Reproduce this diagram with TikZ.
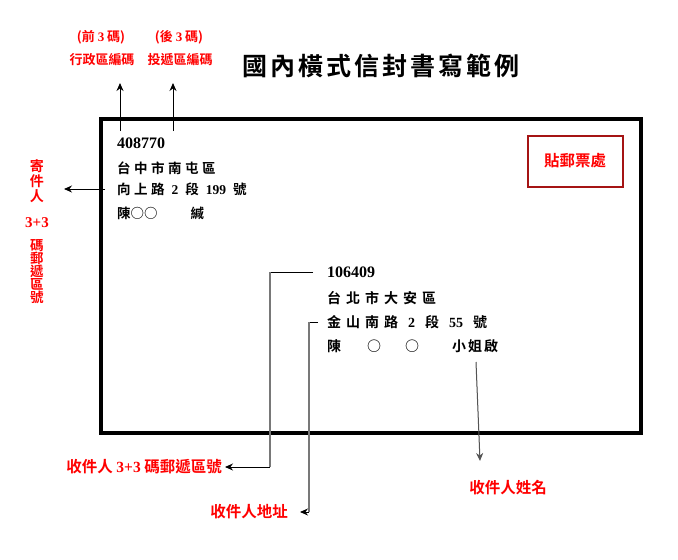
\documentclass[tikz,border=0pt]{standalone}
\usepackage{fontspec}
\setmainfont{Liberation Serif}
\newfontfamily\cjk{Noto Sans CJK TC Bold}
\newfontfamily\lat{Liberation Serif}
\usetikzlibrary{arrows.meta}
\definecolor{lblred}{RGB}{255,0,0}
\definecolor{stampred}{RGB}{165,20,20}
\definecolor{connGray}{RGB}{120,120,120}
\newcommand\dg[1]{{\lat\bfseries #1}}
\newcommand\gp{\hspace{5pt}}
\newcommand\gq{\hspace{10pt}}
\newcommand\sgp{\hspace{3.5pt}}
\newcommand\sgq{\hspace{7pt}}
\newcommand\gt{\hspace{3pt}}
\tikzset{
  body/.style={font=\cjk\fontsize{14}{16}\selectfont, anchor=west, inner sep=0pt},
  sbody/.style={font=\cjk\fontsize{13.5}{16}\selectfont, anchor=west, inner sep=0pt},
  redlbl/.style={font=\cjk\fontsize{13}{15}\selectfont, text=lblred, inner sep=0pt},
  biglbl/.style={font=\cjk\fontsize{15.5}{17}\selectfont, text=lblred, inner sep=0pt},
  arr/.style={-{Stealth[length=8pt,width=7pt]}, line width=1pt},
  envelope/.style={line width=3.5pt},
  connv/.style={connGray, line width=1.6pt},
  connh/.style={line width=1pt}
}
\begin{document}
\begin{tikzpicture}[x=1pt,y=-1pt]
\useasboundingbox[fill=white] (0,0) rectangle (678,560);

% envelope
\draw[envelope] (101,119) rectangle (641,433);

% title
\node[anchor=west, inner sep=0pt, font=\cjk\fontsize{25}{28}\selectfont] (title) at (242,66)
  {國\gt 內\gt 橫\gt 式\gt 信\gt 封\gt 書\gt 寫\gt 範\gt 例};

% stamp
\node[draw=stampred, line width=2pt, minimum width=95pt, minimum height=51pt,
      font=\cjk\fontsize{15.5}{17}\selectfont, text=lblred] (stamp) at (575,161) {貼郵票處};

% top labels
\node[redlbl] (lab1a) at (101,37) {(前 \dg{3} 碼)};
\node[redlbl] (lab1b) at (102,60) {行政區編碼};
\node[redlbl] (lab2a) at (179,37) {(後 \dg{3} 碼)};
\node[redlbl] (lab2b) at (180,60) {投遞區編碼};

% sender block
\node[sbody, font=\lat\bfseries\fontsize{16}{18}\selectfont] (szip) at (117,143) {408770};
\node[sbody] (sline2) at (117,168) {台\sgp 中\sgp 市\sgp 南\sgp 屯\sgp 區};
\node[sbody] (sline3) at (117,189) {向\sgp 上\sgp 路\sgq\dg{2}\sgq 段\sgq\dg{199}\sgq 號};
\node[sbody] (sline4) at (117,214) {陳○○\hspace{33pt}緘};

% arrows to top labels
\coordinate (up1s) at (120,131);
\coordinate (up1e) at (120,83);
\coordinate (up2s) at (173,131);
\coordinate (up2e) at (173,83);
\draw[arr] (up1s) -- (up1e);
\draw[arr] (up2s) -- (up2e);

% left vertical label
\node[redlbl, align=center, font=\cjk\fontsize{14}{15}\selectfont] (sendlab) at (37,181) {寄\\件\\人};
\node[redlbl, font=\lat\bfseries\fontsize{15}{17}\selectfont] (sendnum) at (37,223) {3+3};
\node[redlbl, align=center, font=\cjk\fontsize{13.5}{13}\selectfont] (sendzip) at (37,272) {碼\\郵\\遞\\區\\號};
\coordinate (sendtip) at (64,189);
\draw[arr] ([xshift=-12pt]sline3.west) -- (sendtip);

% receiver block
\node[body, font=\lat\bfseries\fontsize{16}{18}\selectfont] (rzip) at (327,272) {106409};
\node[body] (rline2) at (327,298) {台\gp 北\gp 市\gp 大\gp 安\gp 區};
\node[body] (rline3) at (327,322) {金\gp 山\gp 南\gp 路\gq\dg{2}\gq 段\gq\dg{55}\gq 號};
\node[body] (rline4) at (327,346) {陳\hspace{26pt}○\hspace{24pt}○\hspace{33pt}小\hspace{2pt}姐\hspace{2pt}啟};

% bottom labels
\node[biglbl, anchor=east] (ziplab) at (222,467) {收件人 \dg{3+3} 碼郵遞區號};
\node[biglbl, anchor=east] (addrlab) at (288,512) {收件人地址};
\node[biglbl] (namelab) at (508,488) {收件人姓名};

% zip connector
\coordinate (zipc) at (270,467);
\draw[connh] ([xshift=-14pt]rzip.west) -- (rzip.west -| zipc);
\draw[connv] (rzip.west -| zipc) -- (zipc);
\draw[arr, shorten >=3pt] (zipc) -- (ziplab.east);

% address connector
\coordinate (addrc) at (309,512);
\draw[connh] ([xshift=-9pt]rline3.west) -- (rline3.west -| addrc);
\draw[connv] (rline3.west -| addrc) -- (addrc);
\draw[arr, shorten >=12pt] (addrc) -- (addrlab.east);

% name connector
\coordinate (namet) at (476,362);
\coordinate (nameb) at (480,461);
\draw[arr, draw=connGray!70!black, fill=black] (namet) -- (nameb);
\end{tikzpicture}
\end{document}
